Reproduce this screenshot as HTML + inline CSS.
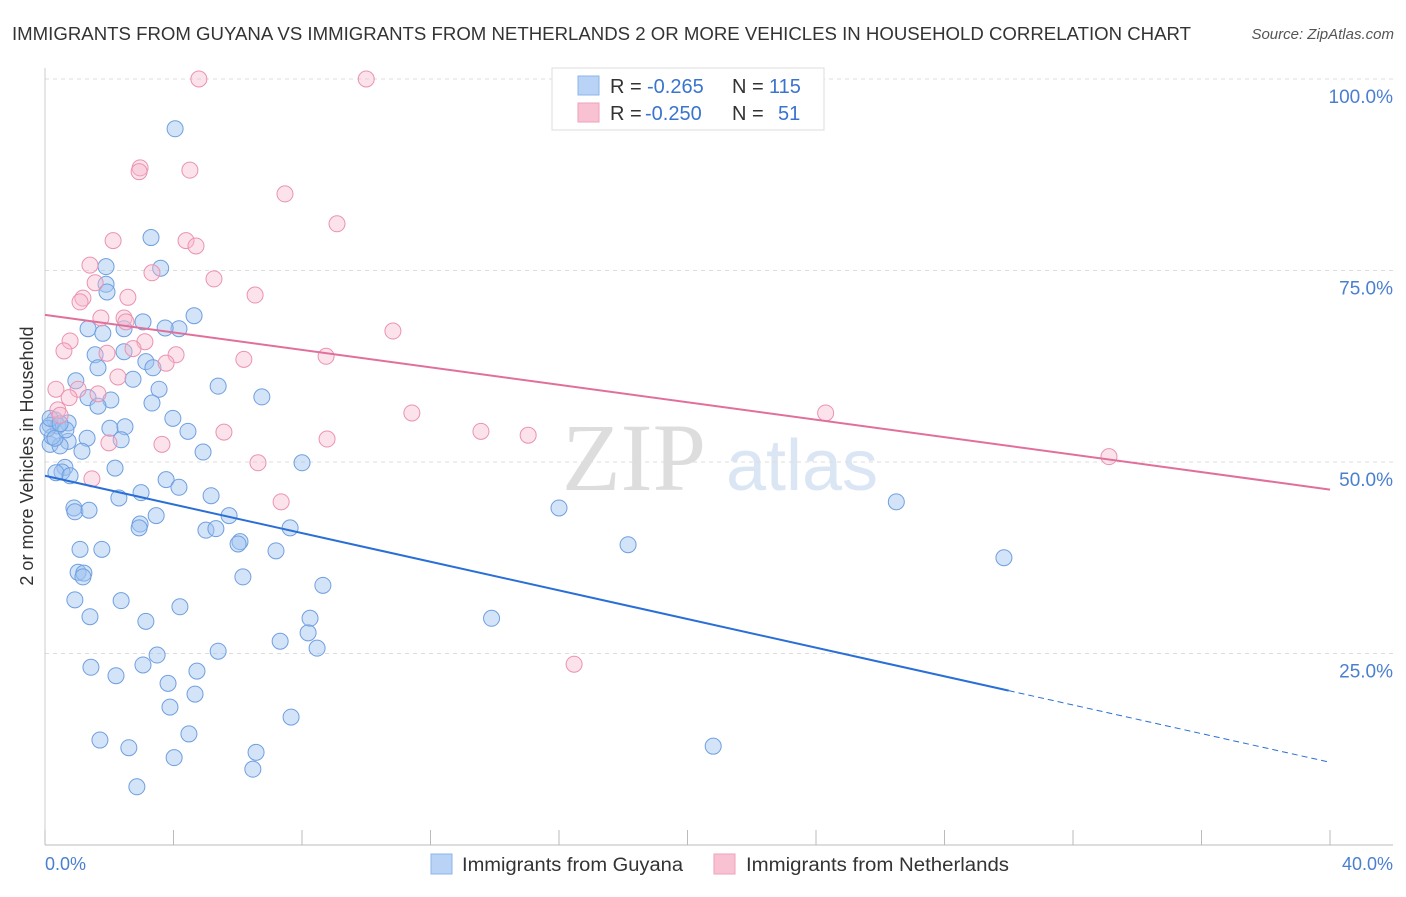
<!DOCTYPE html>
<html><head><meta charset="utf-8"><style>
body{margin:0;background:#fff;font-family:"Liberation Sans",sans-serif}
svg text{font-family:"Liberation Sans",sans-serif}
</style></head><body>
<svg id="c" width="1406" height="892">
<text x="12" y="40" font-size="18" fill="#333" textLength="1179" lengthAdjust="spacingAndGlyphs">IMMIGRANTS FROM GUYANA VS IMMIGRANTS FROM NETHERLANDS 2 OR MORE VEHICLES IN HOUSEHOLD CORRELATION CHART</text>
<text x="1394" y="39" font-size="15" fill="#555" font-style="italic" text-anchor="end">Source: ZipAtlas.com</text>
<text x="634" y="490" font-size="96" fill="#ddd" font-family="Liberation Serif" text-anchor="middle" style="font-family:'Liberation Serif',serif">ZIP</text>
<text x="802" y="490" font-size="72" fill="#dbe6f5" text-anchor="middle">atlas</text>
<g id="grid"></g><g id="pts"></g><g id="lines"></g>
<text transform="translate(33,456) rotate(-90)" font-size="18" fill="#333" text-anchor="middle">2 or more Vehicles in Household</text>
<text x="45" y="870" font-size="18" fill="#4a7fd0">0.0%</text>
<text x="1393" y="870" font-size="18" fill="#4a7fd0" text-anchor="end">40.0%</text>
<g>
<rect x="552" y="68" width="272" height="62" fill="#fff" stroke="#ddd"/>
<rect x="578" y="76" width="21" height="19" fill="#b8d3f5" stroke="#8db4ea"/>
<rect x="578" y="103" width="21" height="19" fill="#f9c2d2" stroke="#efa2bb"/>
<text x="610" y="93" font-size="20" fill="#333">R = </text><text x="647" y="93" font-size="20" fill="#3a73d0">-0.265</text>
<text x="732" y="93" font-size="20" fill="#333">N = </text><text x="769" y="93" font-size="20" fill="#3a73d0">115</text>
<text x="610" y="120" font-size="20" fill="#333">R = </text><text x="645" y="120" font-size="20" fill="#3a73d0">-0.250</text>
<text x="732" y="120" font-size="20" fill="#333">N = </text><text x="778" y="120" font-size="20" fill="#3a73d0">51</text>
</g>
<g>
<rect x="431" y="854" width="21" height="20" fill="#b8d3f5" stroke="#8db4ea"/>
<text x="462" y="871" font-size="19" fill="#333" textLength="221" lengthAdjust="spacingAndGlyphs">Immigrants from Guyana</text>
<rect x="714" y="854" width="21" height="20" fill="#f9c2d2" stroke="#efa2bb"/>
<text x="746" y="871" font-size="19" fill="#333" textLength="263" lengthAdjust="spacingAndGlyphs">Immigrants from Netherlands</text>
</g>
</svg>
<script>
const yTicks=[25,50,75,100];
const yTickLabels=["25.0%","50.0%","75.0%","100.0%"];
const blueX=[4.05,3.3,1.9,3.6,1.9,1.93,4.64,3.05,1.34,1.8,4.17,3.74,2.46,1.56,2.46,1.65,3.14,3.36,2.74,0.96,5.39,3.55,1.34,2.05,1.65,3.33,6.75,3.98,0.72,2.02,2.49,4.45,0.31,0.4,1.31,0.72,2.37,0.16,0.47,4.92,1.15,8.0,0.62,2.18,0.53,0.34,0.78,3.77,4.17,2.99,2.3,5.17,0.9,0.93,1.37,3.46,5.73,2.96,2.93,5.01,5.32,7.63,6.07,6.01,1.09,1.77,7.19,16.0,18.15,26.5,29.85,1.03,1.21,1.18,6.16,8.65,0.93,2.37,4.2,1.4,3.14,8.25,13.9,7.32,8.19,8.47,5.39,3.49,1.43,3.05,2.21,4.73,3.83,4.67,3.89,7.66,1.71,4.48,2.61,6.57,20.8,4.02,6.47,2.86,0.16,0.22,0.09,0.31,0.16,0.65,0.47];
const blueY=[93.5,79.3,75.5,75.3,73.2,72.2,69.1,68.3,67.4,66.8,67.4,67.5,67.4,64.0,64.4,62.3,63.1,62.3,60.8,60.6,59.9,59.5,58.4,58.1,57.3,57.7,58.5,55.7,55.1,54.4,54.6,54.0,55.5,54.7,53.1,52.7,52.9,52.3,52.1,51.3,51.4,49.9,49.3,49.2,48.7,48.6,48.2,47.7,46.7,46.0,45.3,45.6,44.0,43.5,43.7,43.0,43.0,41.9,41.4,41.1,41.3,41.4,39.6,39.3,38.6,38.6,38.4,44.0,39.2,44.8,37.5,35.6,35.5,35.0,35.0,33.9,32.0,31.9,31.1,29.8,29.2,29.6,29.6,26.6,27.7,25.7,25.3,24.8,23.2,23.5,22.1,22.7,21.1,19.7,18.0,16.7,13.7,14.5,12.7,12.1,12.9,11.4,9.9,7.6,54.8,53.3,54.4,53.1,55.7,54.2,55.0];
const pinkX=[4.79,10.0,2.96,2.93,4.51,7.47,9.09,2.12,4.39,4.7,1.4,3.33,5.26,1.56,1.18,2.58,6.54,1.09,1.74,2.46,2.52,10.83,0.78,3.11,2.74,1.93,4.08,0.59,8.75,6.19,3.77,2.27,1.03,0.34,1.65,0.75,0.4,11.42,24.3,5.57,13.57,15.04,8.78,3.64,1.99,6.63,33.12,1.46,7.35,16.47,0.47];
const pinkY=[100,100,88.4,87.9,88.1,85.0,81.1,78.9,78.9,78.2,75.7,74.7,73.9,73.4,71.4,71.5,71.8,70.9,68.8,68.8,68.3,67.1,65.8,65.7,64.8,64.2,64.0,64.5,63.8,63.4,62.9,61.1,59.5,59.5,58.9,58.4,56.8,56.4,56.4,53.9,54.0,53.5,53.0,52.3,52.5,49.9,50.7,47.8,44.8,23.6,56.1];
const blueTrend=[48.2,-0.935];
const pinkTrend=[69.2,-0.57];
const NS="http://www.w3.org/2000/svg";
const X0=45,X1=1330,Y0=845,PY=7.66;
const sx=v=>X0+(v/40)*(X1-X0), sy=v=>Y0-v*PY;
function mk(t,a,p){const e=document.createElementNS(NS,t);for(const k in a)e.setAttribute(k,a[k]);p.appendChild(e);return e;}
const grid=document.getElementById('grid');
yTicks.forEach((t,i)=>{
 const l=mk('line',{x1:45,x2:1393,y1:sy(t),y2:sy(t),stroke:'#ddd','stroke-dasharray':'4,4'},grid);
 
 
 const tx=mk('text',{x:1393,y:sy(t)+24,'font-size':19,fill:'#4a7fd0','text-anchor':'end'},grid);
 tx.textContent=yTickLabels[i];
 
 
});
const ax=mk('line',{x1:45,x2:1393,y1:845,y2:845,stroke:'#bbb'},grid);


const ay=mk('line',{x1:45,x2:45,y1:68,y2:845,stroke:'#ccc'},grid);


for(let i=0;i<=10;i++){const t=mk('line',{x1:sx(i*4),x2:sx(i*4),y1:830,y2:845,stroke:'#bbb'},grid);
 
 }
const pts=document.getElementById('pts');
blueX.forEach((x,i)=>{const c=mk('circle',{cx:sx(x),cy:sy(blueY[i]),r:8,fill:'rgba(160,195,240,0.45)',stroke:'#6f9fe0','stroke-width':1},pts);
 
 });
pinkX.forEach((x,i)=>{const c=mk('circle',{cx:sx(x),cy:sy(pinkY[i]),r:8,fill:'rgba(247,185,205,0.4)',stroke:'#eb92b1','stroke-width':1},pts);
 
 });
const lines=document.getElementById('lines');
const f=(tr,x)=>tr[0]+tr[1]*x;
let b1=mk('line',{x1:sx(0),y1:sy(f(blueTrend,0)),x2:sx(30),y2:sy(f(blueTrend,30)),stroke:'#2a6fd6','stroke-width':2},lines);


let b2=mk('line',{x1:sx(30),y1:sy(f(blueTrend,30)),x2:sx(40),y2:sy(f(blueTrend,40)),stroke:'#2a6fd6','stroke-width':1,'stroke-dasharray':'6,4'},lines);


let p1=mk('line',{x1:sx(0),y1:sy(f(pinkTrend,0)),x2:sx(40),y2:sy(f(pinkTrend,40)),stroke:'#e0709a','stroke-width':2},lines);


</script>
</body></html>
